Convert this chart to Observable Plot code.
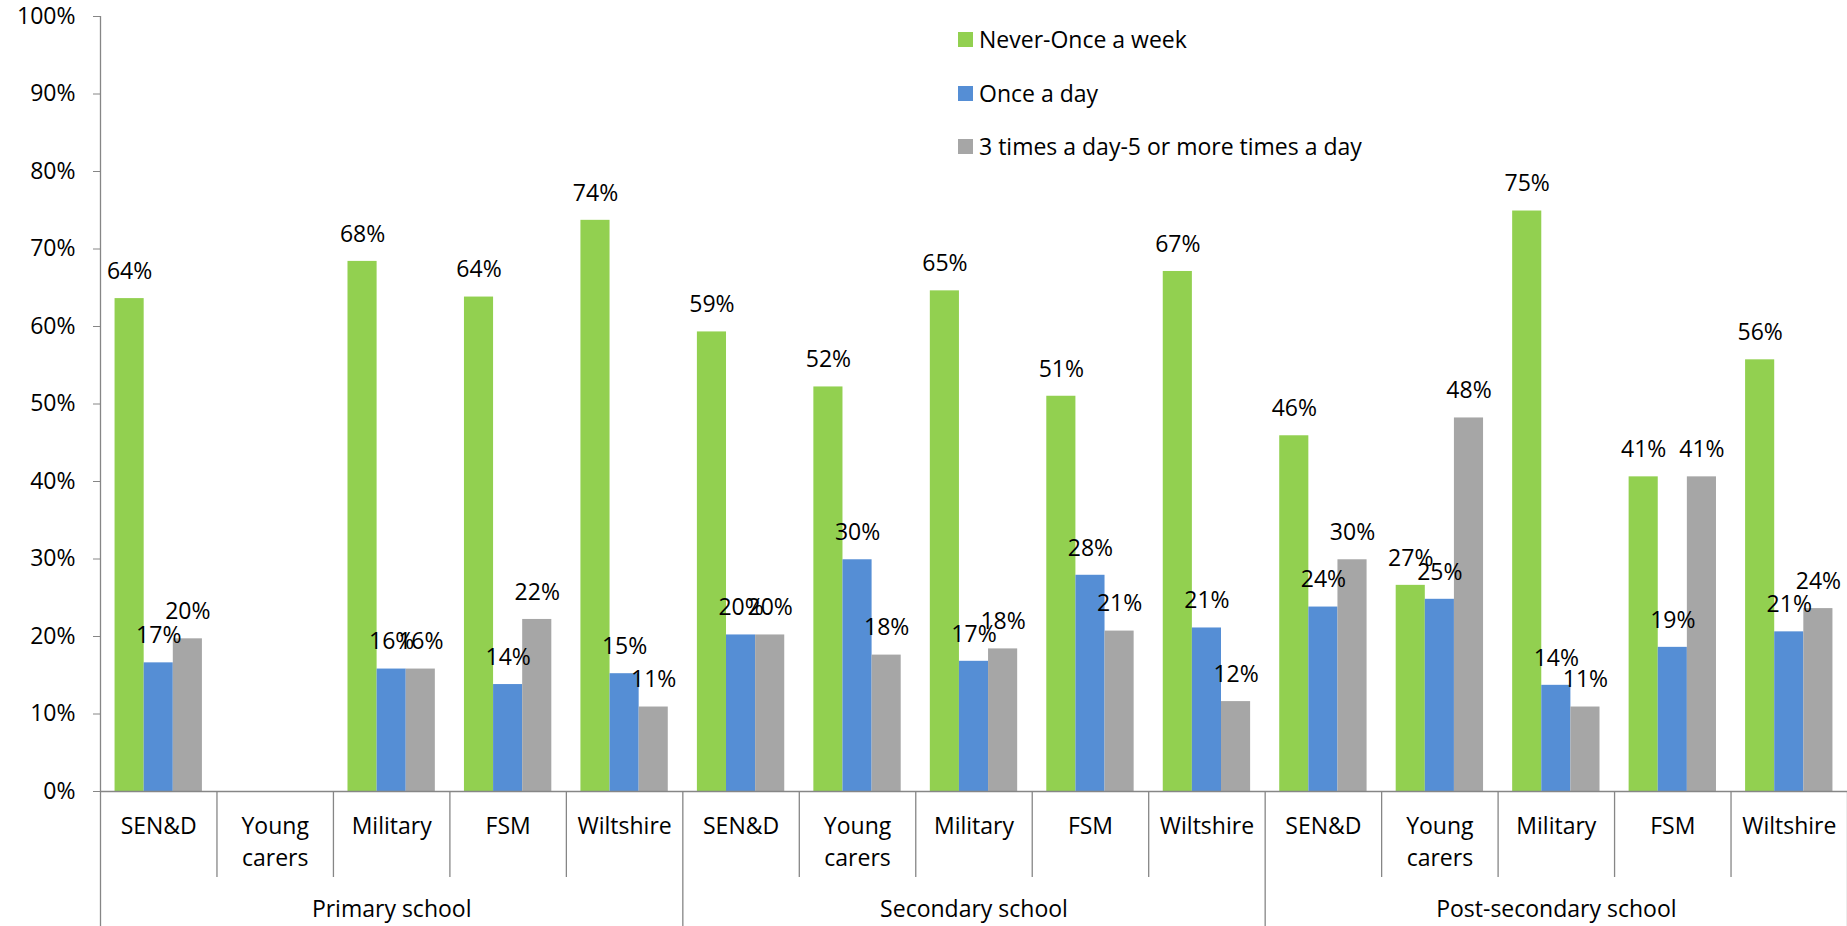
<!DOCTYPE html>
<html>
<head>
<meta charset="utf-8">
<script src="https://cdn.jsdelivr.net/npm/d3@7"></script>
<script src="https://cdn.jsdelivr.net/npm/@observablehq/plot@0.6"></script>
<style>
  html, body { margin: 0; padding: 0; background: #fff; }
  #chart { position: relative; width: 1847px; height: 926px; font-family: "Open Sans", sans-serif; }
  #legend { position: absolute; left: 958px; top: 0; font-size: 23px; color: #000; }
  .item { position: absolute; left: 0; white-space: nowrap; display: flex; align-items: center; height: 30px; line-height: 30px; }
  .sw { width: 15px; height: 15px; margin-right: 6px; flex: none; }
  #chart svg g[aria-label^="y-axis"] line,
  #chart svg g[aria-label="y-axis tick"] path { stroke: #868686; }
</style>
</head>
<body>
<div id="chart"><div id="legend"></div></div>
<script>
// ---- data ----
const groups = ["Primary school", "Secondary school", "Post-secondary school"];
const categories = ["SEN&D", "Young carers", "Military", "FSM", "Wiltshire"];
const categoryLabels = ["SEN&D", "Young\ncarers", "Military", "FSM", "Wiltshire"];
const series = ["Never-Once a week", "Once a day", "3 times a day-5 or more times a day"];
const neverOnceAWeek = [63.6, null, 68.4, 63.8, 73.7, 59.3, 52.2, 64.6, 51.0, 67.1, 45.9, 26.6, 74.9, 40.6, 55.7];
const onceADay       = [16.6, null, 15.8, 13.8, 15.2, 20.2, 29.9, 16.8, 27.9, 21.1, 23.8, 24.8, 13.7, 18.6, 20.6];
const threeTimesADay = [19.7, null, 15.8, 22.2, 10.9, 20.2, 17.6, 18.4, 20.7, 11.6, 29.9, 48.2, 10.9, 40.6, 23.6];
const yTicks = [0, 10, 20, 30, 40, 50, 60, 70, 80, 90, 100];
const colors = ["#92D050", "#558ED5", "#A6A6A6"];

// ---- layout ----
const W = 1847, H = 926, mL = 100, mR = 0, mT = 16, mB = 135;
const pxPerUnit = (H - mT - mB) / 100;
const catSepBottom = -(877 - (H - mB)) / pxPerUnit;
const groupSepBottom = -mB / pxPerUnit;
const nCat = groups.length * categories.length;
const barW = 0.25, outerPad = 0.125;
const axisColor = "#868686";

// ---- table ----
const seriesValues = [neverOnceAWeek, onceADay, threeTimesADay];
const rows = [];
const catRows = [];
groups.forEach((g, gi) => categories.forEach((c, ci) => {
  const i = gi * categories.length + ci;
  catRows.push({ i, group: g, category: c, label: categoryLabels[ci], mid: ci === 2 });
  seriesValues.forEach((vals, si) => {
    const v = vals[i];
    if (v != null) rows.push({ group: g, category: c, series: series[si], i, si, value: v });
  });
}));
const boundaries = d3.range(0, nCat + 1);

const chart = Plot.plot({
  width: W, height: H,
  marginLeft: mL, marginRight: mR, marginTop: mT, marginBottom: mB,
  style: { fontFamily: '"Open Sans", sans-serif', fontSize: "23px", color: "#000", background: "#fff", overflow: "visible" },
  x: { type: "linear", domain: [0, nCat], axis: null },
  y: { domain: [0, 100], ticks: yTicks, tickFormat: d => d + "%", tickSize: 7, tickPadding: 18, label: null },
  color: { domain: series, range: colors },
  marks: [
    Plot.rectY(rows, {
      x1: d => d.i + outerPad + d.si * barW,
      x2: d => d.i + outerPad + (d.si + 1) * barW,
      y: "value",
      fill: "series"
    }),
    Plot.text(rows, {
      x: d => d.i + outerPad + (d.si + 0.5) * barW,
      y: "value",
      text: d => Math.round(d.value) + "%",
      dy: -27,
      fill: "#000"
    }),
    // axis lines and separators
    Plot.ruleY([0], { x1: 0, x2: nCat, stroke: axisColor, strokeWidth: 1.3 }),
    Plot.ruleX([0], { y1: 0, y2: 100, stroke: axisColor, strokeWidth: 1.3 }),
    Plot.ruleX(boundaries, {
      x: d => d,
      y1: 0,
      y2: d => d % categories.length === 0 ? groupSepBottom : catSepBottom,
      stroke: axisColor, strokeWidth: 1.3
    }),
    // category labels
    Plot.text(catRows, {
      x: d => d.i + 0.5, y: 0, text: "label",
      lineAnchor: "top", dy: 19, lineHeight: 1.42, fill: "#000"
    }),
    // group labels (centred in the middle category of each group)
    Plot.text(catRows.filter(d => d.mid), {
      x: d => d.i + 0.5, y: 0, text: "group",
      lineAnchor: "top", dy: 109, fill: "#000"
    })
  ]
});
document.getElementById("chart").appendChild(chart);

// legend
const legend = d3.select("#legend");
const centers = [39, 93, 146];
series.forEach((s, k) => {
  const it = legend.append("div").attr("class", "item").style("top", (centers[k] - 15) + "px");
  it.append("div").attr("class", "sw").style("background", colors[k]);
  it.append("span").text(s);
});
</script>
</body>
</html>
